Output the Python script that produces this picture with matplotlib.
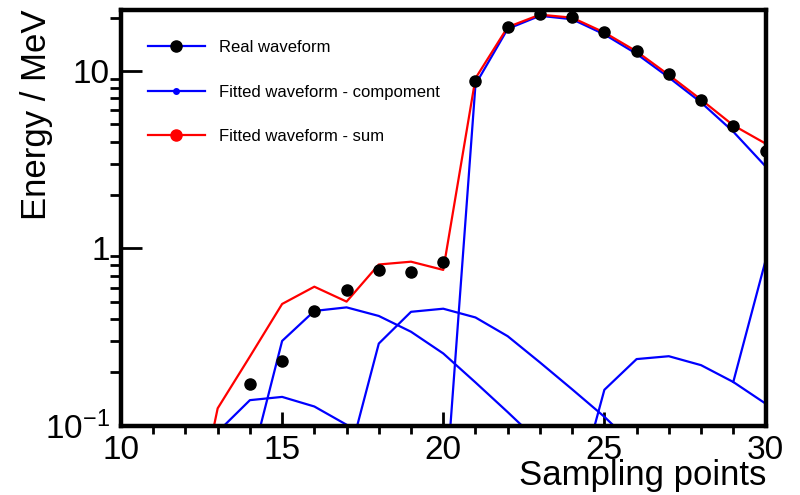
import matplotlib.pyplot as plt
from matplotlib.lines import Line2D
from matplotlib.ticker import MultipleLocator, LogLocator, NullFormatter

plt.rcParams['font.family'] = ['Liberation Sans', 'DejaVu Sans']
plt.rcParams['mathtext.fontset'] = 'custom'
plt.rcParams['mathtext.rm'] = 'Liberation Sans'
plt.rcParams['mathtext.it'] = 'Liberation Sans:italic'

# measured samples
real_x = list(range(14, 31))
real_y = [0.171, 0.231, 0.443, 0.582, 0.755, 0.733, 0.841, 8.78, 17.7, 21.0,
          20.2, 16.6, 13.0, 9.6, 6.85, 4.88, 3.52]

# total of the fit
sum_x = list(range(12, 31))
sum_y = [0.017, 0.125, 0.245, 0.485, 0.607, 0.50, 0.81, 0.84, 0.755, 9.1,
         17.7, 20.8, 20.0, 16.5, 12.9, 9.5, 6.9, 4.94, 3.9]

# individual pulse components
comp1_x = list(range(13, 19))
comp1_y = [0.092, 0.139, 0.145, 0.128, 0.101, 0.07]
comp2_x = list(range(14, 24))
comp2_y = [0.058, 0.30, 0.443, 0.464, 0.415, 0.338, 0.255, 0.175, 0.119, 0.08]
comp3_x = list(range(17, 27))
comp3_y = [0.059, 0.29, 0.438, 0.456, 0.407, 0.319, 0.227, 0.160, 0.112, 0.075]
comp4_x = list(range(20, 31))
comp4_y = [0.028, 8.4, 17.3, 20.5, 19.6, 16.1, 12.5, 9.2, 6.65, 4.55, 2.9]
comp5_x = list(range(24, 31))
comp5_y = [0.034, 0.159, 0.237, 0.246, 0.219, 0.176, 0.133]
comp6_x = [29, 30]
comp6_y = [0.176, 0.85]

components = [(comp1_x, comp1_y), (comp2_x, comp2_y), (comp3_x, comp3_y),
              (comp4_x, comp4_y), (comp5_x, comp5_y), (comp6_x, comp6_y)]

fig = plt.figure(figsize=(8, 4.95), dpi=100)
ax = fig.add_axes([121 / 800, 1 - 425.5 / 495, 644.5 / 800, 415.5 / 495])

for cx, cy in components:
    ax.plot(cx, cy, color='blue', lw=1.6)
ax.plot(sum_x, sum_y, color='red', lw=1.6)
ax.plot(real_x, real_y, 'o', color='black', ms=8, zorder=5)

ax.set_yscale('log')
ax.set_xlim(10, 30)
ax.set_ylim(0.1, 22.1)

ax.set_xticks([10, 15, 20, 25, 30])
ax.xaxis.set_minor_locator(MultipleLocator(1))
ax.set_yticks([0.1, 1, 10], labels=[r'$10^{-1}$', '1', '10'])
ax.yaxis.set_minor_locator(LogLocator(base=10, subs=range(2, 10)))
ax.yaxis.set_minor_formatter(NullFormatter())

ax.tick_params(direction='in', labelsize=24, width=2)
ax.tick_params(axis='x', which='major', length=10, pad=7)
ax.tick_params(axis='x', which='minor', length=5.5, width=2)
ax.tick_params(axis='y', which='major', length=15, pad=8)
ax.tick_params(axis='y', which='minor', length=8, width=2)
for sp in ax.spines.values():
    sp.set_linewidth(3.2)

fig.text(766 / 800, 10 / 495, 'Sampling points', ha='right', va='baseline', fontsize=25)
fig.text(46.5 / 800, 1 - 10 / 495, 'Energy / MeV', rotation=90, rotation_mode='anchor',
         ha='right', va='baseline', fontsize=25)

handles = [
    Line2D([], [], color='blue', lw=1.6, marker='o', mfc='black', mec='black', ms=8),
    Line2D([], [], color='blue', lw=1.6, marker='o', mfc='blue', mec='blue', ms=4),
    Line2D([], [], color='red', lw=1.6, marker='o', mfc='red', mec='red', ms=8),
]
labels = ['Real waveform', 'Fitted waveform - compoment', 'Fitted waveform - sum']
ax.legend(handles, labels, loc='upper left', bbox_to_anchor=(148 / 800, 1 - 40 / 495),
          bbox_transform=fig.transFigure, frameon=False, fontsize=12, numpoints=1,
          handlelength=3.4, handletextpad=0.85, labelspacing=1.77, borderpad=0,
          borderaxespad=0)

fig.savefig('out.png', dpi=100)
